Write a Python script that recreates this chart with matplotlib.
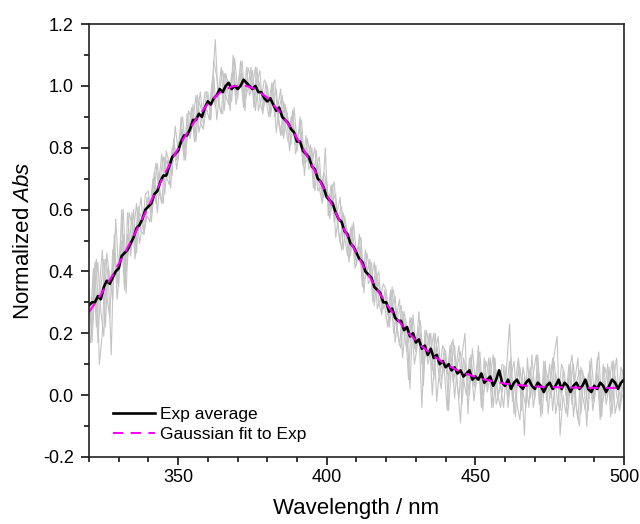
# normalized absorption spectrum: single scans, average and gaussian fit
import matplotlib.pyplot as plt
import numpy as np

plt.rcParams.update({
    "font.family": "Liberation Sans",
    "font.size": 13,
    "axes.unicode_minus": False,
    "mathtext.fontset": "custom",
    "mathtext.rm": "Liberation Sans",
    "mathtext.it": "Liberation Sans:italic",
})

# wavelength grids (nm)
wl = np.arange(320, 501, 1)
wl_half = np.arange(320.5, 500, 1)
wl_fit = np.arange(320, 501, 4)

exp_avg = [
    0.29, 0.30, 0.30, 0.32, 0.31, 0.35, 0.37, 0.36, 0.38, 0.40,
    0.41, 0.45, 0.46, 0.47, 0.49, 0.51, 0.54, 0.55, 0.57, 0.60,
    0.61, 0.62, 0.65, 0.66, 0.69, 0.71, 0.71, 0.74, 0.77, 0.78,
    0.79, 0.82, 0.84, 0.84, 0.86, 0.89, 0.89, 0.91, 0.90, 0.93,
    0.95, 0.94, 0.96, 0.97, 0.99, 0.98, 1.00, 1.01, 0.99, 1.00,
    0.99, 1.00, 1.02, 1.01, 1.00, 0.99, 1.00, 0.98, 0.98, 0.96,
    0.95, 0.96, 0.94, 0.92, 0.93, 0.90, 0.89, 0.88, 0.86, 0.85,
    0.82, 0.82, 0.79, 0.78, 0.77, 0.74, 0.73, 0.70, 0.69, 0.67,
    0.64, 0.63, 0.62, 0.59, 0.57, 0.56, 0.53, 0.52, 0.49, 0.48,
    0.46, 0.44, 0.43, 0.40, 0.39, 0.38, 0.35, 0.34, 0.33, 0.30,
    0.30, 0.27, 0.28, 0.25, 0.24, 0.24, 0.21, 0.22, 0.19, 0.20,
    0.17, 0.18, 0.15, 0.16, 0.13, 0.15, 0.12, 0.13, 0.10, 0.11,
    0.09, 0.10, 0.08, 0.09, 0.07, 0.08, 0.06, 0.07, 0.08, 0.05,
    0.06, 0.05, 0.07, 0.04, 0.05, 0.06, 0.03, 0.05, 0.08, 0.04,
    0.03, 0.05, 0.02, 0.04, 0.05, 0.03, 0.02, 0.04, 0.05, 0.03,
    0.02, 0.04, 0.03, 0.01, 0.03, 0.04, 0.02, 0.03, 0.05, 0.02,
    0.04, 0.03, 0.01, 0.03, 0.04, 0.02, 0.03, 0.05, 0.02, 0.01,
    0.03, 0.02, 0.04, 0.03, 0.01, 0.03, 0.05, 0.04, 0.02, 0.04,
    0.05,
]

scan_a = [
    0.34, 0.17, 0.34, 0.43, 0.27, 0.19, 0.46, 0.38, 0.31, 0.57,
    0.40, 0.50, 0.34, 0.59, 0.45, 0.53, 0.62, 0.49, 0.55, 0.65,
    0.66, 0.56, 0.67, 0.75, 0.65, 0.62, 0.79, 0.75, 0.71, 0.87,
    0.79, 0.86, 0.76, 0.91, 0.83, 0.89, 0.97, 0.85, 0.90, 0.98,
    0.98, 0.89, 1.08, 1.03, 0.93, 0.91, 1.04, 1.00, 0.95, 1.09,
    0.99, 1.04, 0.93, 1.06, 0.97, 1.00, 1.06, 0.92, 0.96, 1.02,
    1.00, 0.90, 0.96, 0.99, 0.88, 0.84, 0.94, 0.89, 0.81, 0.93,
    0.82, 0.86, 0.74, 0.84, 0.73, 0.75, 0.80, 0.66, 0.67, 0.72,
    0.69, 0.57, 0.63, 0.65, 0.53, 0.47, 0.58, 0.52, 0.45, 0.56,
    0.45, 0.48, 0.35, 0.47, 0.36, 0.38, 0.43, 0.28, 0.31, 0.36,
    0.34, 0.22, 0.29, 0.32, 0.19, 0.15, 0.27, 0.22, 0.02, 0.26,
    0.16, 0.21, -0.04, 0.21, 0.10, 0.14, 0.20, -0.02, 0.09, 0.16,
    0.14, -0.05, 0.11, 0.16, 0.03, -0.09, 0.12, 0.08, 0.00, 0.15,
    0.04, 0.11, -0.04, 0.12, 0.01, 0.06, 0.13, -0.03, 0.01, 0.10,
    0.09, -0.04, 0.06, 0.11, -0.03, -0.08, 0.09, 0.04, -0.04, 0.13,
    0.01, 0.08, -0.07, 0.11, -0.02, 0.04, 0.12, -0.06, 0.00, 0.10,
    0.07, -0.07, 0.04, 0.10, -0.04, -0.10, 0.08, 0.03, -0.05, 0.12,
    0.00, 0.07, -0.08, 0.10, -0.03, 0.03, 0.11, -0.06, -0.01, 0.09,
    0.06,
]

scan_b = [
    0.17, 0.36, 0.44, 0.10, 0.20, 0.44, 0.39, 0.13, 0.52, 0.36,
    0.48, 0.60, 0.40, 0.48, 0.59, 0.44, 0.57, 0.64, 0.52, 0.58,
    0.56, 0.68, 0.75, 0.66, 0.62, 0.77, 0.74, 0.67, 0.83, 0.76,
    0.84, 0.90, 0.80, 0.85, 0.93, 0.82, 0.92, 0.98, 0.87, 0.93,
    0.89, 1.00, 1.15, 0.95, 0.91, 1.04, 1.00, 0.92, 1.10, 0.97,
    1.03, 1.08, 0.96, 0.99, 1.06, 0.93, 1.01, 1.05, 0.92, 0.96,
    0.90, 0.99, 1.02, 0.90, 0.84, 0.95, 0.90, 0.79, 0.92, 0.81,
    0.85, 0.89, 0.75, 0.76, 0.81, 0.67, 0.74, 0.77, 0.63, 0.80,
    0.58, 0.66, 0.69, 0.56, 0.49, 0.59, 0.53, 0.43, 0.55, 0.44,
    0.48, 0.51, 0.37, 0.39, 0.44, 0.30, 0.37, 0.40, 0.27, 0.29,
    0.22, 0.32, 0.34, 0.23, 0.16, 0.27, 0.22, 0.05, 0.25, 0.15,
    0.20, 0.24, 0.10, 0.14, 0.20, 0.00, 0.14, 0.19, 0.05, 0.09,
    -0.05, 0.13, 0.18, 0.06, -0.01, 0.13, 0.20, -0.06, 0.13, 0.03,
    0.09, 0.14, 0.00, 0.04, 0.12, -0.04, 0.12, 0.00, 0.03, -0.04,
    0.09, 0.23, 0.01, -0.07, 0.11, 0.05, -0.13, 0.12, -0.01, 0.07,
    0.13, -0.03, 0.02, 0.11, -0.06, 0.06, 0.13, 0.19, -0.13, 0.00,
    -0.06, 0.07, 0.13, -0.01, -0.08, 0.09, 0.04, -0.10, 0.11, -0.02,
    0.06, 0.14, -0.04, 0.01, 0.10, -0.07, 0.05, 0.12, -0.05, 0.00,
]

scan_c = [
    0.32, 0.20, 0.43, 0.17, 0.35, 0.44, 0.32, 0.25, 0.47, 0.42,
    0.35, 0.60, 0.37, 0.52, 0.47, 0.60, 0.46, 0.59, 0.57, 0.56,
    0.64, 0.59, 0.72, 0.59, 0.70, 0.77, 0.71, 0.68, 0.80, 0.79,
    0.76, 0.90, 0.78, 0.87, 0.85, 0.94, 0.82, 0.95, 0.92, 0.90,
    0.97, 0.91, 1.03, 0.89, 0.99, 1.05, 0.97, 0.94, 1.04, 1.01,
    0.96, 1.08, 0.95, 1.02, 0.99, 1.05, 0.92, 1.02, 0.98, 0.94,
    0.99, 0.91, 1.01, 0.85, 0.93, 0.97, 0.87, 0.82, 0.90, 0.86,
    0.79, 0.90, 0.75, 0.80, 0.75, 0.80, 0.66, 0.75, 0.69, 0.64,
    0.68, 0.59, 0.68, 0.51, 0.58, 0.61, 0.51, 0.45, 0.54, 0.49,
    0.42, 0.52, 0.37, 0.43, 0.38, 0.43, 0.29, 0.38, 0.33, 0.28,
    0.33, 0.23, 0.35, 0.17, 0.26, 0.29, 0.20, 0.14, 0.25, 0.20,
    0.14, 0.27, 0.10, 0.17, 0.12, 0.20, 0.05, 0.16, 0.11, 0.08,
    0.13, 0.05, 0.17, -0.01, 0.10, 0.14, 0.05, 0.00, 0.12, 0.07,
    0.02, 0.16, -0.01, 0.07, 0.03, 0.12, -0.04, 0.08, 0.04, 0.01,
    0.07, -0.01, 0.12, -0.06, 0.05, 0.09, 0.01, -0.04, 0.08, 0.04,
    -0.01, 0.13, -0.03, 0.05, 0.01, 0.10, -0.05, 0.07, 0.03, 0.00,
    0.05, -0.03, 0.10, -0.07, 0.04, 0.08, 0.00, -0.05, 0.07, 0.03,
    -0.02, 0.12, -0.04, 0.04, 0.00, 0.09, -0.06, 0.06, 0.02, -0.01,
    0.05,
]

scan_d = [
    0.24, 0.41, 0.22, 0.35, 0.47, 0.22, 0.41, 0.35, 0.49, 0.31,
    0.43, 0.52, 0.33, 0.59, 0.55, 0.48, 0.61, 0.53, 0.52, 0.64,
    0.60, 0.70, 0.62, 0.69, 0.78, 0.65, 0.76, 0.74, 0.82, 0.73,
    0.81, 0.86, 0.76, 0.92, 0.89, 0.85, 0.97, 0.88, 0.86, 0.98,
    0.93, 1.02, 0.93, 0.98, 1.06, 0.92, 1.02, 0.99, 1.05, 0.94,
    1.00, 1.04, 0.92, 1.06, 1.02, 0.96, 1.06, 0.95, 0.91, 1.01,
    0.94, 1.01, 0.90, 0.93, 0.99, 0.83, 0.92, 0.86, 0.91, 0.78,
    0.82, 0.85, 0.71, 0.83, 0.77, 0.70, 0.79, 0.67, 0.62, 0.70,
    0.62, 0.68, 0.56, 0.59, 0.64, 0.47, 0.55, 0.50, 0.54, 0.41,
    0.45, 0.47, 0.33, 0.46, 0.40, 0.33, 0.42, 0.30, 0.26, 0.34,
    0.26, 0.34, 0.20, 0.26, 0.31, 0.12, 0.23, 0.17, 0.24, 0.10,
    0.16, 0.20, 0.03, 0.21, 0.16, 0.08, 0.20, 0.08, 0.02, 0.15,
    0.07, 0.16, 0.04, 0.09, 0.16, -0.03, 0.10, 0.05, 0.12, -0.02,
    0.06, 0.09, -0.05, 0.11, 0.07, 0.01, 0.12, 0.00, -0.04, 0.09,
    0.02, 0.11, -0.02, 0.05, 0.12, -0.05, 0.06, 0.01, 0.09, -0.04,
    0.03, 0.07, -0.06, 0.09, 0.05, -0.01, 0.11, -0.01, -0.05, 0.08,
    0.00, 0.10, -0.03, 0.05, 0.12, -0.06, 0.06, 0.01, 0.09, -0.05,
    0.02, 0.06, -0.07, 0.09, 0.05, -0.02, 0.11, 0.00, -0.05, 0.08,
]

gauss_fit = [
    0.268, 0.325, 0.389, 0.459, 0.533, 0.610, 0.687, 0.762, 0.832, 0.892,
    0.942, 0.978, 0.998, 1.003, 0.990, 0.962, 0.918, 0.863, 0.798, 0.725,
    0.649, 0.571, 0.495, 0.423, 0.356, 0.296, 0.242, 0.196, 0.158, 0.126,
    0.100, 0.080, 0.065, 0.053, 0.044, 0.037, 0.033, 0.0295, 0.027, 0.0257,
    0.0247, 0.024, 0.0235, 0.0233, 0.0232, 0.0231,
]

fig = plt.figure(figsize=(6.4, 5.24), dpi=100)
ax = fig.add_axes([0.139, 0.128, 0.836, 0.826])

grey = "#c4c4c4"
ax.plot(wl, scan_a, color=grey, lw=0.8)
ax.plot(wl_half, scan_b, color=grey, lw=0.8)
ax.plot(wl, scan_c, color=grey, lw=0.8)
ax.plot(wl_half, scan_d, color=grey, lw=0.8)
ax.plot(wl, exp_avg, color="black", lw=1.9, label="Exp average")
ax.plot(wl_fit, gauss_fit, color="#ff00ff", lw=1.5, ls=(0, (5, 3.5)),
        label="Gaussian fit to Exp")

ax.set_xlim(320, 500)
ax.set_ylim(-0.2, 1.2)
ax.set_xticks([350, 400, 450, 500])
ax.set_xticks(np.arange(320, 501, 10), minor=True)
ax.set_yticks(np.arange(-0.2, 1.21, 0.2))
ax.set_yticks(np.arange(-0.2, 1.21, 0.1), minor=True)
ax.yaxis.set_major_formatter(plt.FormatStrFormatter("%.1f"))

ax.tick_params(which="both", direction="out", width=1.1, top=False, right=False)
ax.tick_params(which="major", length=6)
ax.tick_params(axis="x", which="major", pad=3)
ax.tick_params(axis="y", which="major", pad=5)
ax.tick_params(which="minor", length=3.5)
for s in ax.spines.values():
    s.set_linewidth(1.2)
    s.set_color("#222222")

ax.set_xlabel("Wavelength / nm", fontsize=16, labelpad=8)
ax.set_ylabel("Normalized $\\it{Abs}$", fontsize=16, labelpad=6)

ax.legend(loc="lower left", frameon=False, fontsize=12.5, handlelength=2.4,
          handletextpad=0.3, labelspacing=0.25, borderpad=0,
          borderaxespad=0, bbox_to_anchor=(0.045, 0.035))

plt.savefig("out.png", dpi=100)
